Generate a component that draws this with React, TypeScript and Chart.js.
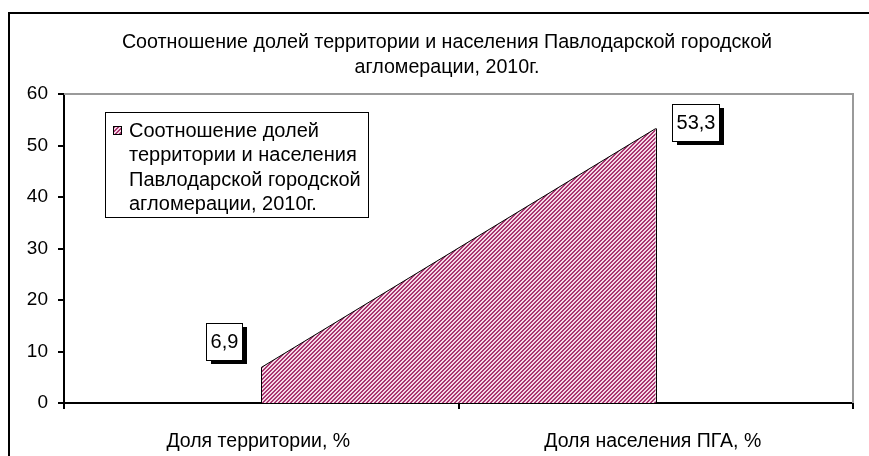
import React, { useEffect, useRef } from "react";
import { Chart, registerables } from "chart.js";

Chart.register(...registerables);

const categories = ["Доля территории, %", "Доля населения ПГА, %"];
const seriesName =
  "Соотношение долей территории и населения Павлодарской городской агломерации, 2010г.";
const seriesValues = [6.9, 53.3];
const titleLines = [
  "Соотношение долей территории и населения Павлодарской городской",
  "агломерации, 2010г.",
];
const legendLines = [
  "Соотношение долей",
  "территории и населения",
  "Павлодарской городской",
  "агломерации, 2010г.",
];
const yMin = 0;
const yMax = 60;
const yStep = 10;

const FONT = '"Liberation Sans", Arial, sans-serif';
const W = 869;
const H = 456;

// label offsets (px) relative to each point
const labelOffsets = [
  [-37, -26],
  [40, -6],
];

function makePattern(ctx: CanvasRenderingContext2D) {
  const c = document.createElement("canvas");
  c.width = 4;
  c.height = 4;
  const p = c.getContext("2d")!;
  p.fillStyle = "#f6d8e6";
  p.fillRect(0, 0, 4, 4);
  p.fillStyle = "#a83570";
  for (let y = 0; y < 4; y++)
    for (let x = 0; x < 4; x++) {
      const m = (x + y) % 4;
      if (m === 0 || m === 1) p.fillRect(x, y, 1, 1);
    }
  return ctx.createPattern(c, "repeat")!;
}

export default function App() {
  const ref = useRef<HTMLCanvasElement | null>(null);

  useEffect(() => {
    const canvas = ref.current!;
    const ctx0 = canvas.getContext("2d")!;
    const pattern = makePattern(ctx0);

    const decor = {
      id: "decor",
      beforeDraw(chart: any) {
        const ctx = chart.ctx as CanvasRenderingContext2D;
        ctx.save();
        ctx.fillStyle = "#fff";
        ctx.fillRect(0, 0, chart.width, chart.height);
        ctx.strokeStyle = "#000";
        ctx.lineWidth = 2;
        ctx.beginPath();
        ctx.moveTo(9, chart.height);
        ctx.lineTo(9, 13);
        ctx.lineTo(chart.width, 13);
        ctx.stroke();
        ctx.fillStyle = "#000";
        ctx.font = `19.7px ${FONT}`;
        ctx.textAlign = "center";
        ctx.textBaseline = "middle";
        titleLines.forEach((t, i) => ctx.fillText(t, 447, 43 + i * 25));
        ctx.restore();
      },
      beforeDatasetsDraw(chart: any) {
        const ctx = chart.ctx as CanvasRenderingContext2D;
        const a = chart.chartArea;
        ctx.save();
        ctx.strokeStyle = "#9a9a9a";
        ctx.lineWidth = 2;
        ctx.beginPath();
        ctx.moveTo(a.left, a.top);
        ctx.lineTo(a.right, a.top);
        ctx.lineTo(a.right, a.bottom);
        ctx.stroke();
        ctx.restore();
      },
      afterDatasetsDraw(chart: any) {
        const ctx = chart.ctx as CanvasRenderingContext2D;
        const meta = chart.getDatasetMeta(0);
        const base = chart.scales.y.getPixelForValue(0);
        ctx.save();
        ctx.strokeStyle = "#000";
        ctx.lineWidth = 1;
        const pts = meta.data;
        [pts[0], pts[pts.length - 1]].forEach((p: any) => {
          ctx.beginPath();
          ctx.moveTo(Math.round(p.x) + 0.5, p.y);
          ctx.lineTo(Math.round(p.x) + 0.5, base);
          ctx.stroke();
        });
        // data labels
        ctx.font = `20px ${FONT}`;
        ctx.textAlign = "center";
        ctx.textBaseline = "middle";
        pts.forEach((p: any, i: number) => {
          const txt = seriesValues[i].toFixed(1).replace(".", ",");
          const tw = ctx.measureText(txt).width;
          const bw = Math.round(tw + 8);
          const bh = 37;
          const cx = p.x + labelOffsets[i][0];
          const cy = p.y + labelOffsets[i][1];
          const lx = Math.round(cx - bw / 2);
          const ty = Math.round(cy - bh / 2);
          ctx.fillStyle = "#000";
          ctx.fillRect(lx + 5, ty + 4, bw, bh);
          ctx.fillStyle = "#fff";
          ctx.fillRect(lx, ty, bw, bh);
          ctx.strokeStyle = "#000";
          ctx.lineWidth = 1;
          ctx.strokeRect(lx + 0.5, ty + 0.5, bw, bh);
          ctx.fillStyle = "#000";
          ctx.fillText(txt, lx + bw / 2 + 0.5, ty + bh / 2 + 1);
        });
        ctx.restore();
      },
      afterDraw(chart: any) {
        const ctx = chart.ctx as CanvasRenderingContext2D;
        ctx.save();
        // legend box
        const bx = 105, by = 112, bw = 263, bh = 105;
        ctx.fillStyle = "#fff";
        ctx.fillRect(bx, by, bw, bh);
        ctx.strokeStyle = "#000";
        ctx.lineWidth = 1;
        ctx.strokeRect(bx + 0.5, by + 0.5, bw, bh);
        ctx.fillStyle = pattern;
        ctx.fillRect(113, 126, 8, 8);
        ctx.strokeRect(113.5, 126.5, 8, 8);
        ctx.fillStyle = "#000";
        ctx.font = `20px ${FONT}`;
        ctx.textAlign = "left";
        ctx.textBaseline = "middle";
        legendLines.forEach((t, i) => ctx.fillText(t, 129, 131 + i * 24.6));
        ctx.restore();
      },
    };

    const chart = new Chart(canvas, {
      type: "line",
      data: {
        labels: categories,
        datasets: [
          {
            label: seriesName,
            data: seriesValues,
            fill: "origin",
            backgroundColor: pattern,
            borderColor: "#000",
            borderWidth: 1,
            pointRadius: 0,
            tension: 0,
          },
        ],
      },
      options: {
        responsive: false,
        animation: false,
        devicePixelRatio: 1,
        layout: { padding: { top: 94, right: 16, bottom: 0, left: 0 } },
        plugins: {
          legend: { display: false },
          title: { display: false },
          tooltip: { enabled: false },
        },
        scales: {
          x: {
            type: "category",
            offset: true,
            grid: {
              offset: true,
              drawOnChartArea: false,
              drawTicks: true,
              tickLength: 6,
              color: "#000",
              lineWidth: 2,
            },
            border: { color: "#000", width: 2 },
            ticks: {
              color: "#000",
              font: { family: FONT, size: 19.5 },
              padding: 21,
              maxRotation: 0,
              labelOffset: -3,
            },
            afterFit: (s: any) => {
              s.height = 53;
            },
          },
          y: {
            min: yMin,
            max: yMax,
            ticks: {
              stepSize: yStep,
              color: "#000",
              font: { family: FONT, size: 19 },
              padding: 10,
            },
            grid: {
              drawOnChartArea: false,
              tickLength: 6,
              color: "#000",
              lineWidth: 2,
            },
            border: { color: "#000", width: 2 },
            afterFit: (s: any) => {
              s.width = 64;
            },
          },
        },
      },
      plugins: [decor],
    } as any);

    return () => chart.destroy();
  }, []);

  return (
    <div style={{ position: "absolute", left: 0, top: 0, width: W, height: H, overflow: "hidden" }}>
      <canvas ref={ref} width={W} height={H} style={{ display: "block" }} />
    </div>
  );
}
